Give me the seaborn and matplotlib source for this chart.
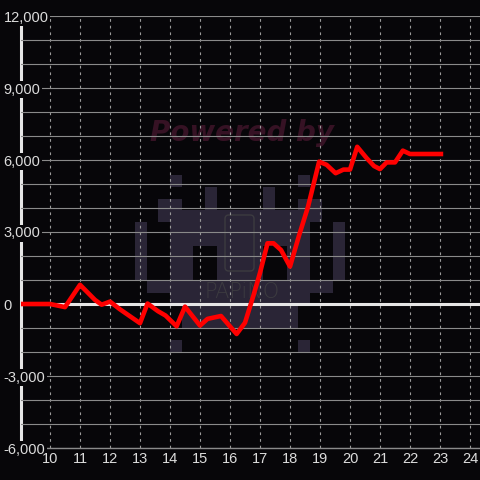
import matplotlib

matplotlib.use("Agg")
import matplotlib.pyplot as plt
import numpy as np
import seaborn as sns
from matplotlib.colors import ListedColormap
from matplotlib.patches import FancyBboxPatch
from matplotlib.ticker import FuncFormatter, MultipleLocator

# cumulative value over the day (hours)
hours = [9.0, 10.0, 10.5, 11.0, 11.5, 11.72, 12.0, 12.33, 13.0, 13.25, 13.6, 13.85,
         14.22, 14.5, 15.0, 15.25, 15.7, 16.22, 16.5, 16.78, 17.0, 17.25, 17.45,
         17.7, 18.0, 18.3, 18.6, 18.97, 19.22, 19.52, 19.78, 20.0, 20.24, 20.56,
         20.8, 21.0, 21.22, 21.5, 21.76, 22.0, 23.03]
values = [0, 0, -130, 800, 170, -30, 100, -220, -800, 20, -300, -480,
          -930, -110, -900, -620, -500, -1250, -780, 350, 1300, 2530, 2530,
          2250, 1560, 2850, 4050, 5930, 5800, 5450, 5600, 5600, 6550, 6070,
          5750, 5620, 5900, 5900, 6390, 6250, 6250]

x_ticks = list(range(10, 25))
y_ticks = [-6000, -3000, 0, 3000, 6000, 9000, 12000]

# watermark pixel logo
logo_rows = [
    "...X..........X...",
    "......X....X......",
    "..XX..X....X..XX..",
    "..XXXXXXXXXXXXXX..",
    "X..XXXXXXXXXXXX..X",
    "X..XXXXXXXXXXXX..X",
    "X..XX..XXXX..XX..X",
    "X..XX..XXXX..XX..X",
    "X..XX..XXXX..XX..X",
    ".XXXXXXXXXXXXXXXX.",
    "...XXXXXXXXXXXX...",
    "....XXXXXXXXXX....",
    "....XXXXXXXXXX....",
    "..................",
    "...X..........X...",
]

bg = "#070609"
grid_col = "#8a8a8a"
label_col = "#dcdcdc"

plt.rcParams["font.family"] = ["Liberation Sans", "DejaVu Sans"]

fig = plt.figure(figsize=(4.8, 4.8), dpi=100, facecolor=bg)

# background watermark
logo_ax = fig.add_axes([135 / 480, 128 / 480, 210 / 480, 177 / 480], zorder=0)
logo = np.array([[1 if c == "X" else 0 for c in row] for row in logo_rows])
logo_ax.imshow(logo, cmap=ListedColormap([bg, "#2a2536"]), aspect="auto", interpolation="nearest")
logo_ax.axis("off")
logo_ax.text(242 / 480, 1 - 133 / 480, "Powered by", transform=fig.transFigure,
             ha="center", va="center", fontsize=20, fontweight="bold", fontstyle="italic",
             family="DejaVu Sans", color="#361224")
logo_ax.text(242 / 480, 1 - 292 / 480, "PAPiNO", transform=fig.transFigure,
             ha="center", va="center", fontsize=15, family="DejaVu Sans",
             fontweight="light", color="#3c3b40")
phone = FancyBboxPatch((225 / 480, 1 - 271 / 480), 29 / 480, 56 / 480,
                       boxstyle="round,pad=0,rounding_size=0.008",
                       transform=fig.transFigure, facecolor="none",
                       edgecolor="#3c3b40", linewidth=1.0)
fig.add_artist(phone)
phone.set_zorder(0.5)

ax = fig.add_axes([21 / 480, 32 / 480, 459 / 480, 432 / 480], zorder=1)
ax.set_facecolor("none")

sns.lineplot(x=hours, y=values, color="#ff0000", linewidth=3.3, ax=ax, zorder=5)
ax.axhline(0, color="#e6e6e6", linewidth=2.2, zorder=4)

ax.set_xlim(9.033, 24.333)
ax.set_ylim(-6000, 12000)
ax.set_xticks(x_ticks)
ax.set_yticks(y_ticks)
ax.yaxis.set_minor_locator(MultipleLocator(1000))
ax.yaxis.set_major_formatter(FuncFormatter(lambda v, _: f"{int(v):,}"))

ax.grid(axis="y", which="both", color=grid_col, linewidth=0.8, linestyle="-")
# dashed vertical guides at each hour tick
ax.vlines(x_ticks, 0, 1, transform=ax.get_xaxis_transform(), colors="#9a9a9a",
          linewidth=0.8, linestyles=(0, (2.5, 3.5)), zorder=1.6)

ax.tick_params(axis="x", length=0, pad=3, labelsize=10.5, labelcolor=label_col)
ax.tick_params(axis="y", which="both", length=0, pad=12.5, labelsize=10.5, labelcolor=label_col)
for lab in ax.get_yticklabels():
    lab.set_horizontalalignment("left")
    lab.set_bbox(dict(facecolor=bg, edgecolor="none", pad=0.8))

ax.yaxis.set_zorder(3)
ax.xaxis.set_zorder(3.5)
ax.spines["left"].set_color("#e6e6e6")
ax.spines["left"].set_linewidth(2.2)
ax.spines["left"].set_zorder(2.5)
ax.spines["bottom"].set_color(grid_col)
ax.spines["bottom"].set_linewidth(1)
ax.spines["bottom"].set_zorder(1.7)
ax.spines["top"].set_visible(False)
ax.spines["right"].set_visible(False)
ax.set_xlabel("")
ax.set_ylabel("")

fig.savefig("out.png", dpi=100, facecolor=bg)
plt.close(fig)
